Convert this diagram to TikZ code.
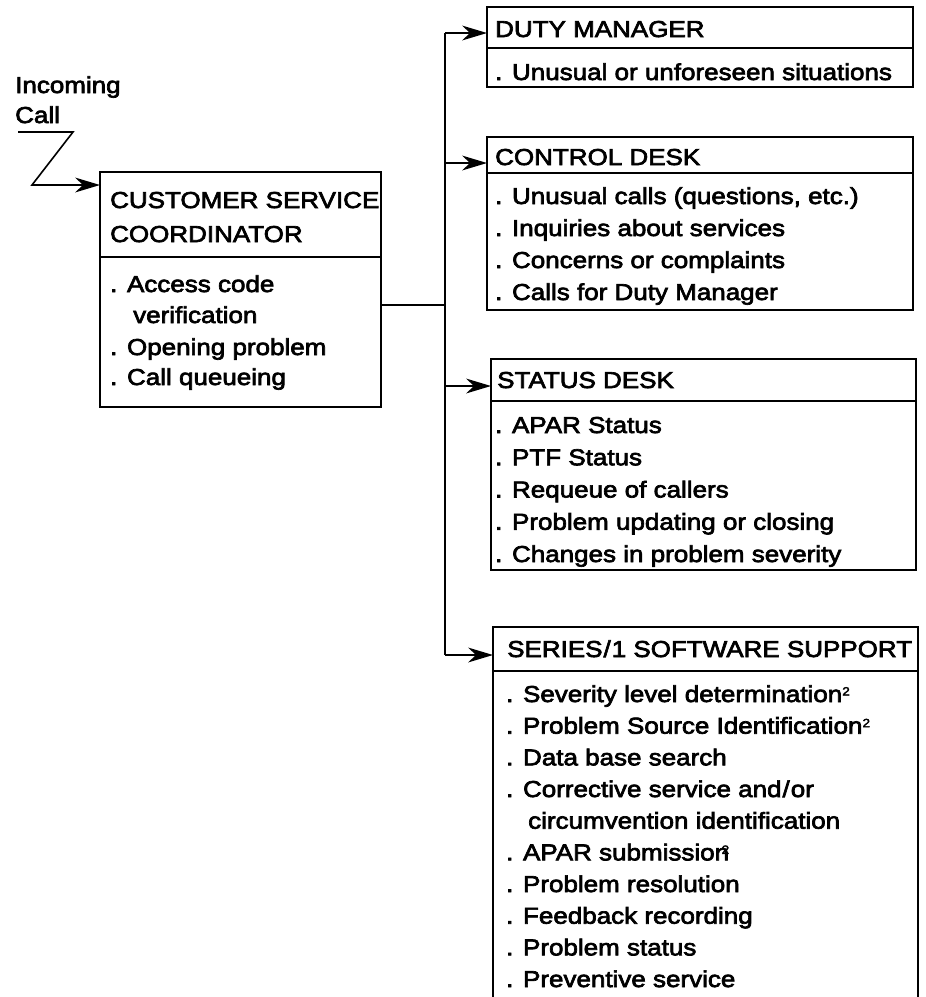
\documentclass[tikz,border=0pt]{standalone}
\usepackage{fontspec}
\setmainfont[FakeStretch=1.13,FakeBold=3]{Liberation Sans}
\usetikzlibrary{calc}
\newcommand{\fnmark}{\raisebox{6.5pt}{\fontsize{12}{12}\selectfont 2}}
\tikzset{
  box/.style={draw, line width=1.8pt, anchor=north west, inner sep=0pt, outer sep=0pt},
  rule/.style={line width=1.8pt},
  lbl/.style={anchor=base west, inner sep=0pt, font=\fontsize{23}{28}\selectfont},
  link/.style={line width=1.6pt},
  arr/.style={link, shorten >=10pt},
  % barbed arrowhead pointing right, tip at the origin
  head/.pic={\fill (0,0) -- (-25,-7.5) -- (-17,0) -- (-25,7.5) -- cycle;}
}
\begin{document}
\begin{tikzpicture}[x=1pt,y=-1pt]
\useasboundingbox (0,0) rectangle (926,997);

% boxes
\node[box, minimum width=281pt, minimum height=235pt] (csc) at (100,172) {};
\node[box, minimum width=426pt, minimum height=80pt]  (dm)  at (487,7) {};
\node[box, minimum width=426pt, minimum height=173pt] (cd)  at (487,137) {};
\node[box, minimum width=425pt, minimum height=211pt] (sd)  at (491,359) {};
\node[box, minimum width=425pt, minimum height=420pt] (s1)  at (493,627) {};

% header dividers
\draw[rule] ($(csc.north west)+(0,85)$) -- ($(csc.north east)+(0,85)$);
\draw[rule] ($(dm.north west)+(0,41)$) -- ($(dm.north east)+(0,41)$);
\draw[rule] ($(cd.north west)+(0,36)$) -- ($(cd.north east)+(0,36)$);
\draw[rule] ($(sd.north west)+(0,42)$) -- ($(sd.north east)+(0,42)$);
\draw[rule] ($(s1.north west)+(0,44)$) -- ($(s1.north east)+(0,44)$);

% incoming call
\node[lbl] (inc1) at (15,93) {Incoming};
\node[lbl] (inc2) at (15,123) {Call};
\coordinate (z1) at (18,132);
\coordinate (z2) at (73,132);
\coordinate (z3) at (32,185);
\draw[arr] (z1) -- (z2) -- (z3) -- (csc.west |- z3);
\pic at (csc.west |- z3) {head};

% distribution
\coordinate (j0) at (445,305);
\coordinate (jtop) at (445,33);
\coordinate (jcd) at (445,163);
\coordinate (jsd) at (445,386);
\coordinate (jbot) at (445,655);
\draw[link] (csc.east |- j0) -- (j0);
\draw[link] (jtop) -- (jbot);
\draw[arr] (jtop) -- (dm.west |- jtop);
\pic at (dm.west |- jtop) {head};
\draw[arr] (jcd) -- (cd.west |- jcd);
\pic at (cd.west |- jcd) {head};
\draw[arr] (jsd) -- (sd.west |- jsd);
\pic at (sd.west |- jsd) {head};
\draw[arr] (jbot) -- (s1.west |- jbot);
\pic at (s1.west |- jbot) {head};

% customer service coordinator
\node[lbl] (csc-h1) at (110,208) {CUSTOMER SERVICE};
\node[lbl] (csc-h2) at (110,242) {COORDINATOR};
\node[lbl] (csc-0) at (110,292) {. Access code};
\node[lbl] (csc-1) at (133,323) {verification};
\node[lbl] (csc-2) at (110,355) {. Opening problem};
\node[lbl] (csc-3) at (110,385) {. Call queueing};

% duty manager
\node[lbl] (dm-h) at (495,37) {DUTY MANAGER};
\node[lbl] (dm-0) at (495,80) {. Unusual or unforeseen situations};

% control desk
\node[lbl] (cd-h) at (495,165) {CONTROL DESK};
\foreach \t [count=\i from 0] in {{. Unusual calls (questions, etc.)},
  {. Inquiries about services}, {. Concerns or complaints},
  {. Calls for Duty Manager}}
  \node[lbl] (cd-\i) at (495,204+\i*32) {\t};

% status desk
\node[lbl] (sd-h) at (497,388) {STATUS DESK};
\foreach \t [count=\i from 0] in {{. APAR Status}, {. PTF Status},
  {. Requeue of callers}, {. Problem updating or closing},
  {. Changes in problem severity}}
  \node[lbl] (sd-\i) at (495,433+\i*32.25) {\t};

% series/1 software support
\node[lbl] (s1-h) at (507,657) {SERIES\kern1pt/\kern1pt1 SOFTWARE SUPPORT};
\foreach \t [count=\i from 0] in {{. Severity level determination\fnmark},
  {. Problem Source Identification\fnmark},
  {. Data base search},
  {. Corrective service and\kern1pt/\kern1pt or},
  {\hspace*{22pt}circumvention identification},
  {. APAR submissio\rlap{n}\kern7pt\fnmark},
  {. Problem resolution},
  {. Feedback recording},
  {. Problem status},
  {. Preventive service}}
  \node[lbl] (s1-\i) at (506,702+\i*31.67) {\t};
\end{tikzpicture}
\end{document}
